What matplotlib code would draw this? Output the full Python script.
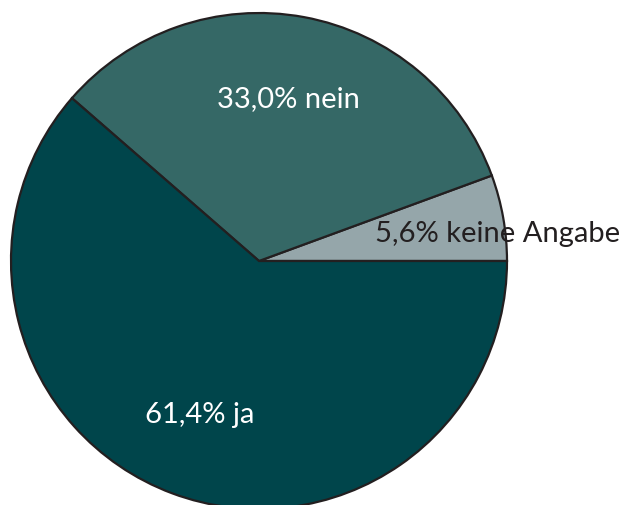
import numpy as np
import matplotlib.pyplot as plt

################################################################################
# Data
labels = ['keine Angabe', 'nein', 'ja']
shares = [5.6, 33.0, 61.4]
colors = ['#95a6aa', '#356866', '#00454b']
text_colors = ['#231f20', 'white', 'white']
# label positions in pixels (x, y from top)
label_pos = [(498, 234), (288, 99), (200, 415)]

################################################################################
# Plot
W, H = 622, 506
fig = plt.figure(figsize=(W / 100, H / 100), dpi=100)
ax = fig.add_axes([0, 0, 1, 1])

cx, cy, r = 259, H - 262, 248
ax.pie(shares, colors=colors, startangle=0, counterclock=True,
       center=(cx, cy), radius=r, frame=True,
       wedgeprops=dict(edgecolor='#231f20', linewidth=1.6))
ax.set_xlim(0, W)
ax.set_ylim(0, H)
ax.set_aspect('equal')
ax.axis('off')

for lab, val, col, (x, y) in zip(labels, shares, text_colors, label_pos):
    txt = ('%.1f%% ' % val).replace('.', ',') + lab
    ax.text(x, H - y, txt, color=col, fontsize=21, family='Lato',
            ha='center', va='center')

plt.savefig('out.png', dpi=100)
